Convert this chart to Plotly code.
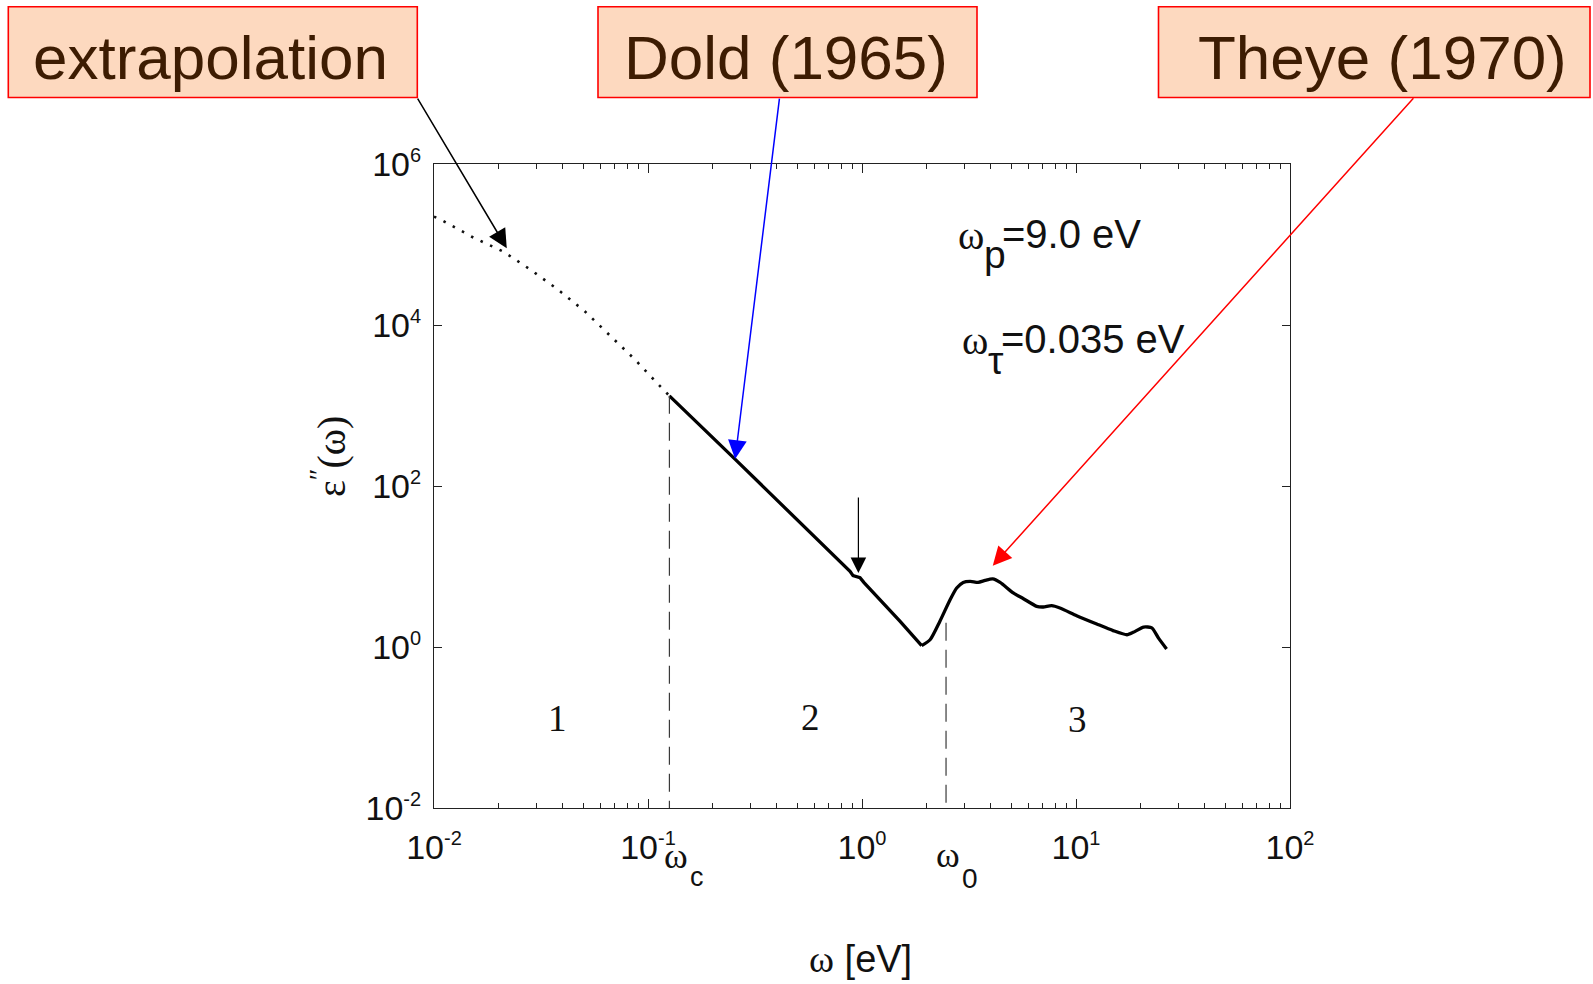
import math
import plotly.graph_objects as go

# ---------------- data ----------------
# Region 1: extrapolated Drude tail below the cut-off (dotted)
w_extrap = [0.01, 0.01104, 0.01528, 0.0211, 0.02838, 0.0381, 0.0508, 0.0664, 0.0869, 0.1138, 0.1259]
eps_extrap = [2.22e5, 1.96e5, 1.22e5, 8.15e4, 4.83e4, 2.73e4, 1.47e4, 7.5e3, 3.72e3, 1.74e3, 1.318e3]

# Region 2: Dold (1965)
w_dold = [0.1259, 0.255, 0.879, 0.908, 0.979, 1.022, 1.507, 1.90]
eps_dold = [1318, 216, 8.69, 7.69, 7.26, 6.30, 2.08, 1.04]

# Region 3: Theye (1970)
w_theye = [1.90, 2.08, 2.31, 2.58, 2.77, 2.97, 3.20, 3.49, 3.76, 4.08, 4.42, 5.09, 5.68,
           6.55, 7.03, 7.69, 8.41, 10.07, 12.5, 14.9, 17.3, 18.5, 20.7, 22.6, 24.3, 26.5]
eps_theye = [1.04, 1.23, 2.08, 3.87, 5.41, 6.35, 6.53, 6.35, 6.71, 7.00, 6.35, 4.69, 3.98,
             3.20, 3.14, 3.26, 3.05, 2.45, 1.93, 1.60, 1.42, 1.52, 1.77, 1.73, 1.29, 0.946]

# region boundaries (ω_c, ω_0) and the top of their dashed markers
w_bounds = [0.1259, 2.47]
eps_bound_top = [1318, 2.0]
eps_floor = 0.01

# axis ticks
x_tickvals = [1e-2, 1e-1, 1e0, 1e1, 1e2]
x_exponents = ["-2", "-1", "0", "1", "2"]
y_tickvals = [1e-2, 1e0, 1e2, 1e4, 1e6]
y_exponents = ["-2", "0", "2", "4", "6"]


def power_label(e):
    return "10<sup><span style='font-size:20px'>" + e + "</span></sup>"


# ---------------- page geometry ----------------
W, H = 1593, 984
L, R, T, B = 434, 303, 164, 176
PW = W - L - R
PH = H - T - B


def px(x):
    return (x - L) / PW


def py(y):
    return (H - B - y) / PH


SANS = "Liberation Sans, Arial, sans-serif"
SERIF = "Liberation Serif, Times New Roman, serif"
INK = "#111111"

fig = go.Figure()

fig.add_trace(go.Scatter(x=w_extrap, y=eps_extrap, mode="lines",
                         line=dict(color="#111111", width=2.6, dash="2.5px,8px")))
fig.add_trace(go.Scatter(x=w_dold, y=eps_dold, mode="lines",
                         line=dict(color="black", width=3.3)))
fig.add_trace(go.Scatter(x=w_theye, y=eps_theye, mode="lines",
                         line=dict(color="black", width=3.3, shape="spline", smoothing=0.6)))
for wb, top in zip(w_bounds, eps_bound_top):
    fig.add_trace(go.Scatter(x=[wb, wb], y=[top, eps_floor], mode="lines",
                             line=dict(color="#3a3a3a", width=1.2, dash="18px,9px")))

minor_x = [m * 10.0 ** e for e in range(-2, 2) for m in range(2, 10)]

axis_common = dict(
    type="log", showgrid=False, zeroline=False,
    showline=True, linecolor="#222222", linewidth=1.2, mirror="ticks",
    ticks="inside", tickcolor="#222222", tickwidth=1,
    tickfont=dict(family=SANS, size=34, color=INK),
)

fig.update_xaxes(range=[-2, 2], tickmode="array", tickvals=x_tickvals,
                 ticktext=[power_label(e) for e in x_exponents],
                 ticklen=9, ticklabelstandoff=9,
                 minor=dict(ticks="inside", ticklen=5, tickcolor="#222222", tickwidth=1,
                            tickmode="array", tickvals=minor_x),
                 **axis_common)
fig.update_yaxes(range=[-2, 6], tickmode="array", tickvals=y_tickvals,
                 ticktext=[power_label(e) for e in y_exponents],
                 ticklen=8, ticklabelstandoff=5, **axis_common)

ann = []


def text_at(x, y, s, size, family=SANS, color=INK, xanchor="center", angle=0):
    ann.append(dict(xref="paper", yref="paper", x=px(x), y=py(y), text=s, showarrow=False,
                    xanchor=xanchor, yanchor="middle", textangle=angle,
                    font=dict(family=family, size=size, color=color)))


# source labels in boxes
BOX_FILL = "#fdd9bf"
BOX_TEXT = "#3d1c02"
boxes = [
    ("extrapolation", 8.3, 417.3, 210.8),
    ("Dold (1965)", 598.0, 977.0, 786.0),
    ("Theye (1970)", 1158.5, 1590.0, 1382.0),
]
shapes = []
for label, x0, x1, xc in boxes:
    shapes.append(dict(type="rect", xref="paper", yref="paper",
                       x0=px(x0), x1=px(x1), y0=py(97.5), y1=py(6.7),
                       fillcolor=BOX_FILL, line=dict(color="#ff0000", width=1.6), layer="above"))
    text_at(xc, 57.5, label, 62, color=BOX_TEXT)

# arrows from the boxes to the curve
arrows = [
    (0.02188, 9.0e4, -90, -151, "black", 1.5, 2.5),
    (0.2553, 216.0, 44.5, -362, "#0000ff", 1.5, 2.5),
    (4.083, 10.23, 422, -469, "#ff0000", 1.5, 2.5),
    (0.962, 8.3, 0, -77, "black", 1.2, 2.6),
]
for xa, ya, dx, dy, col, lw, hs in arrows:
    ann.append(dict(xref="x", yref="y", x=math.log10(xa), y=math.log10(ya), text="",
                    showarrow=True, ax=dx, ay=dy, axref="pixel", ayref="pixel",
                    arrowhead=2, arrowsize=hs, arrowwidth=lw, arrowcolor=col,
                    standoff=0, startstandoff=0, font=dict(size=1)))

# Drude parameters
text_at(956, 235, "ω", 40, family=SERIF, xanchor="left")
text_at(982, 255, "p", 39, xanchor="left")
text_at(1000, 234, "=9.0 eV", 40, xanchor="left")
text_at(960, 340, "ω", 40, family=SERIF, xanchor="left")
text_at(986, 360, "τ", 39, xanchor="left")
text_at(999, 339, "=0.035 eV", 40, xanchor="left")

# region numbers
text_at(557, 718.5, "1", 37, family=SERIF)
text_at(810, 717, "2", 37, family=SERIF)
text_at(1077.6, 719, "3", 37, family=SERIF)

# ω_c and ω_0 under the axis
text_at(676, 856, "ω", 36, family=SERIF)
text_at(697, 877, "c", 27)
text_at(948, 855, "ω", 36, family=SERIF)
text_at(969.5, 878, "0", 28)

# axis titles
text_at(860.5, 959, "<span style='font-family:Liberation Serif'>ω</span> [eV]", 38)
text_at(328, 457, "ε<sup>″</sup>(ω)", 40, family=SERIF, angle=-90)

fig.update_layout(width=W, height=H, autosize=False,
                  margin=dict(l=L, r=R, t=T, b=B, pad=0),
                  paper_bgcolor="white", plot_bgcolor="white",
                  showlegend=False, annotations=ann, shapes=shapes)

fig.write_html("out.html")
